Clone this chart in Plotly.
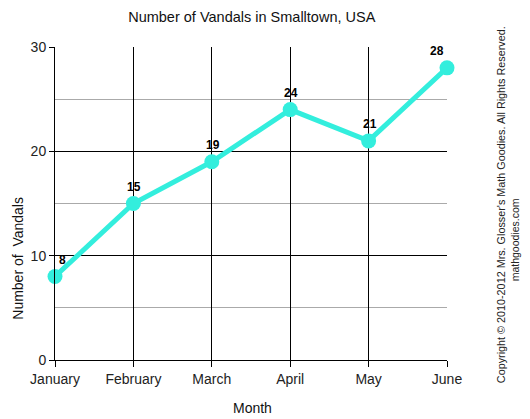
import plotly.graph_objects as go

months = ["January", "February", "March", "April", "May", "June"]
vandals = [8, 15, 19, 24, 21, 28]
y_ticks = [0, 10, 20, 30]

LINE = "#33EEDD"
FONT = "Liberation Sans, Arial, sans-serif"

xs = list(range(len(months)))

fig = go.Figure(go.Scatter(
    x=xs, y=vandals, mode="lines+markers",
    line=dict(color=LINE, width=5),
    marker=dict(size=15, color=LINE),
    cliponaxis=False, showlegend=False, hoverinfo="x+y",
))

# value labels above each point (nudged inward at both ends)
for i, v in zip(xs, vandals):
    shift = 7 if i == 0 else (-10 if i == xs[-1] else 1)
    fig.add_annotation(x=i, y=v, text=f"<b>{v}</b>", showarrow=False,
                       xshift=shift, yshift=17,
                       font=dict(family=FONT, size=12, color="#000000"))

# page body has an 8px margin, so the figure is 8px smaller than the window
fig.update_layout(
    width=522, height=411,
    margin=dict(l=47, r=83, t=39, b=59),
    paper_bgcolor="white", plot_bgcolor="white",
    font=dict(family=FONT, size=14, color="#222222"),
    title=dict(text="Number of Vandals in Smalltown, USA", x=0.467, xanchor="center",
               y=0.978, yanchor="middle", font=dict(size=14.5, color="#111111")),
)

fig.update_xaxes(
    range=[0, 5], tickvals=xs, ticktext=months,
    showgrid=True, gridcolor="#000000", gridwidth=1,
    showline=True, linecolor="#000000", linewidth=1,
    ticks="outside", ticklen=6, tickcolor="#000000",
    zeroline=False, fixedrange=True,
)
fig.update_yaxes(
    range=[0, 30], tickvals=y_ticks,
    showgrid=True, gridcolor="#000000", gridwidth=1,
    minor=dict(dtick=5, showgrid=True, gridcolor="#aaaaaa", gridwidth=1, ticks=""),
    showline=True, linecolor="#000000", linewidth=1,
    ticks="outside", ticklen=5, tickcolor="#000000",
    zeroline=False, fixedrange=True,
)

fig.add_annotation(text="Month", xref="paper", yref="paper", x=0.505, y=-0.153,
                   xanchor="center", yanchor="middle",
                   showarrow=False, font=dict(size=14, color="#111111"))
fig.add_annotation(text="Number of&nbsp;&nbsp;Vandals", xref="paper", yref="paper", x=-0.095, y=0.326,
                   xanchor="center", yanchor="middle",
                   textangle=-90, showarrow=False, font=dict(size=14, color="#111111"))
fig.add_annotation(text="Copyright © 2010-2012 Mrs. Glosser's Math Goodies. All Rights Reserved.",
                   xref="paper", yref="paper", x=1.138, y=0.495, textangle=-90,
                   xanchor="center", yanchor="middle",
                   showarrow=False, font=dict(size=10.8, color="#222222"))
fig.add_annotation(text="mathgoodies.com", xref="paper", yref="paper", x=1.174, y=0.383,
                   xanchor="center", yanchor="middle",
                   textangle=-90, showarrow=False, font=dict(size=10.5, color="#222222"))

fig.write_html("out.html")
